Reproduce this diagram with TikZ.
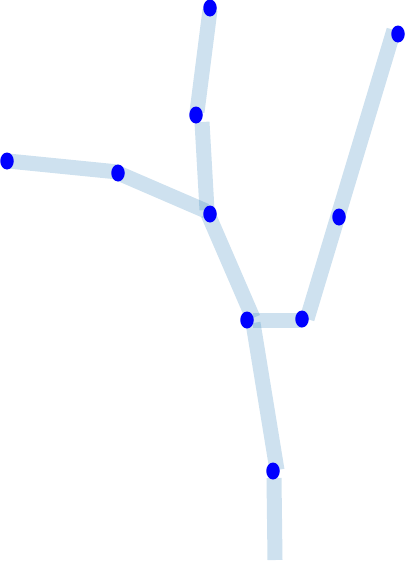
\documentclass[tikz,border=0pt]{standalone}
\usetikzlibrary{shapes.geometric}
\definecolor{bonecol}{RGB}{31,119,180}
\tikzset{
	joint/.style={
		ellipse,
		fill=blue,
		draw=none,
		inner sep=0pt,
		minimum width=13.5pt,
		minimum height=17pt},
	bone/.style={
		draw=bonecol,
		draw opacity=.22,
		line width=15pt,
		line cap=butt},
}
\begin{document}
\begin{tikzpicture}
		[x=1pt,y=-1pt]
		\useasboundingbox (0,0) rectangle (405,568);
		% ends of the bones
		\coordinate (crownA) at (210,10);
		\coordinate (crownB) at (197,112);
		\coordinate (stemA) at (202,122);
		\coordinate (stemB) at (207,210);
		\coordinate (twigA) at (8,161);
		\coordinate (twigB) at (118,172);
		\coordinate (armA) at (118,173);
		\coordinate (armB) at (206,211);
		\coordinate (trunkA) at (208,214);
		\coordinate (trunkB) at (253,318);
		\coordinate (barA) at (253,320);
		\coordinate (barB) at (302,320);
		\coordinate (longA) at (307,319);
		\coordinate (longB) at (394,30);
		\coordinate (legA) at (253,323);
		\coordinate (legB) at (277,470);
		\coordinate (footA) at (274,478);
		\coordinate (footB) at (275,560);
		
		\draw[bone] (crownA) -- (crownB);
		\draw[bone] (stemA) -- (stemB);
		\draw[bone] (twigA) -- (twigB);
		\draw[bone] (armA) -- (armB);
		\draw[bone] (trunkA) -- (trunkB);
		\draw[bone] (barA) -- (barB);
		\draw[bone] (longA) -- (longB);
		\draw[bone] (legA) -- (legB);
		\draw[bone] (footA) -- (footB);
		
		% joints
		\node[joint] (crown) at (210,8) {};
		\node[joint] (bend) at (196,115) {};
		\node[joint] (fork) at (210,214) {};
		\node[joint] (elbow) at (118,173) {};
		\node[joint] (hand) at (7,161) {};
		\node[joint] (hip) at (247,320) {};
		\node[joint] (side) at (302,319) {};
		\node[joint] (mid) at (339,217) {};
		\node[joint] (tip) at (398,34) {};
		\node[joint] (knee) at (273,471) {};
		
\end{tikzpicture}
\end{document}
